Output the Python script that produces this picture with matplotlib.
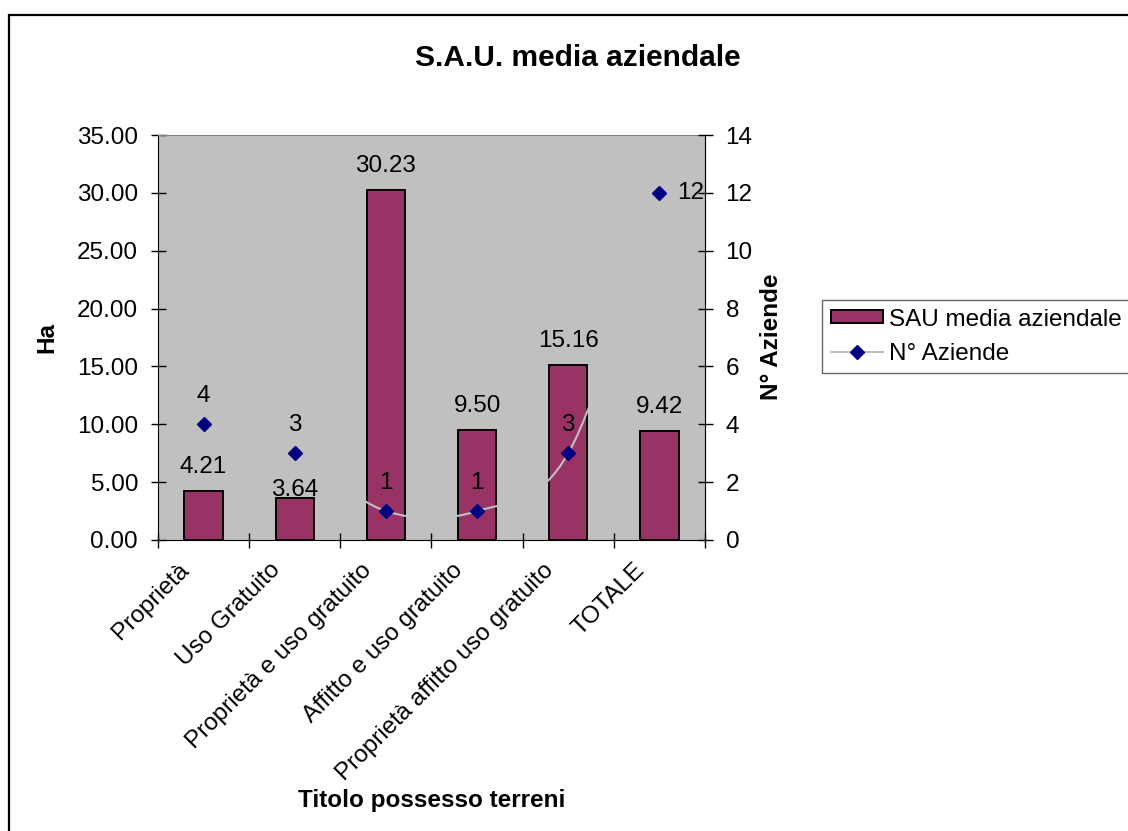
import matplotlib
matplotlib.use("Agg")
import matplotlib.pyplot as plt
from matplotlib.path import Path
from matplotlib.patches import PathPatch, Rectangle, Patch
from matplotlib.lines import Line2D
from matplotlib.ticker import FormatStrFormatter
from matplotlib.transforms import ScaledTranslation
import numpy as np

# ---- data ----
categories = ["Proprietà", "Uso Gratuito", "Proprietà e uso gratuito",
              "Affitto e uso gratuito", "Proprietà affitto uso gratuito", "TOTALE"]
sau_media = [4.21, 3.64, 30.23, 9.50, 15.16, 9.42]
n_aziende = [4, 3, 1, 1, 3, 12]

# label placement (pixels between value and text baseline)
bar_label_gap_px = [18, 2, 18, 18, 18, 18]
point_label_side = ["above", "above", "above", "above", "above", "right"]

plt.rcParams["font.family"] = ["Liberation Sans", "DejaVu Sans"]
FS = 17.5
PX = 0.72  # points per pixel at 100 dpi
PLOT_BG = "#C0C0C0"

W, H = 1128, 831
fig = plt.figure(figsize=(W / 100, H / 100), dpi=100)
fig.patch.set_facecolor("white")

# outer chart frame
fig.add_artist(Rectangle((9 / W, -0.05), 1.2, (1 - 15 / H) + 0.05,
                         transform=fig.transFigure, fill=False,
                         edgecolor="black", linewidth=1.6))

ax = fig.add_axes([158 / W, 1 - 540 / H, (705 - 158) / W, (540 - 135) / H])
ax.set_facecolor(PLOT_BG)
x = np.arange(len(categories))

ax.bar(x, sau_media, width=0.42, color="#993366", edgecolor="black",
       linewidth=1.4, zorder=2)
ax.set_xlim(-0.5, len(categories) - 0.5)
ax.set_ylim(0, 35)
ax.set_yticks(np.arange(0, 35.01, 5))
ax.yaxis.set_major_formatter(FormatStrFormatter("%.2f"))
ax.tick_params(axis="y", direction="inout", length=10.8, width=1,
               labelsize=FS, pad=9)

ax.set_xticks(x)
ax.set_xticklabels(categories, rotation=45, ha="right", va="center",
                   rotation_mode="anchor", fontsize=FS)
ax.tick_params(axis="x", which="major", length=0, pad=27 * PX)
ax.set_xticks(np.arange(-0.5, len(categories)), minor=True)
ax.tick_params(axis="x", which="minor", direction="inout", length=10.8, width=1)
shift = ScaledTranslation(-18 / 100, 0, fig.dpi_scale_trans)
for lab in ax.get_xticklabels():
    lab.set_transform(lab.get_transform() + shift)

for side in ("left", "bottom"):
    ax.spines[side].set_color("black")
for side in ("top", "right"):
    ax.spines[side].set_color("#808080")

for i, v in enumerate(sau_media):
    ax.annotate(f"{v:.2f}", (i, v), xytext=(0, bar_label_gap_px[i] * PX),
                textcoords="offset points", ha="center", va="baseline",
                fontsize=FS, zorder=5)

# secondary axis: number of farms
ax2 = ax.twinx()
ax2.set_ylim(0, 14)
ax2.set_yticks(np.arange(0, 14.01, 2))
ax2.tick_params(axis="y", direction="inout", length=10.8, width=1,
                labelsize=FS, pad=9.4)
for side in ("left", "top", "bottom"):
    ax2.spines[side].set_visible(False)
ax2.spines["right"].set_color("black")

# smoothed connecting line (Catmull-Rom as cubic Bezier segments),
# drawn in the plot-area colour so it only shows over the bars
pts = np.column_stack([x, n_aziende]).astype(float)
ext = np.vstack([pts[0], pts, pts[-1]])
verts = [tuple(pts[0])]
codes = [Path.MOVETO]
for k in range(len(pts) - 1):
    p0, p1, p2, p3 = ext[k], ext[k + 1], ext[k + 2], ext[k + 3]
    c1 = p1 + (p2 - p0) / 6.0
    c2 = p2 - (p3 - p1) / 6.0
    verts += [tuple(c1), tuple(c2), tuple(p2)]
    codes += [Path.CURVE4] * 3
ax2.add_patch(PathPatch(Path(verts, codes), fill=False, edgecolor=PLOT_BG,
                        linewidth=1.5, zorder=3))
ax2.plot(x, n_aziende, linestyle="none", marker="D", markersize=7,
         color="#000080", zorder=4)

for i, n in enumerate(n_aziende):
    if point_label_side[i] == "right":
        ax2.annotate(str(n), (i, n), xytext=(18 * PX, 0),
                     textcoords="offset points", ha="left", va="center",
                     fontsize=FS, zorder=5)
    else:
        ax2.annotate(str(n), (i, n), xytext=(0, 22 * PX),
                     textcoords="offset points", ha="center", va="baseline",
                     fontsize=FS, zorder=5)

# titles and axis names
fig.text(578 / W, 1 - 58 / H, "S.A.U. media aziendale", ha="center",
         va="center", fontsize=21.5, fontweight="bold")
fig.text(432 / W, 1 - 800 / H, "Titolo possesso terreni", ha="center",
         va="center", fontsize=FS, fontweight="bold")
fig.text(47 / W, 1 - 337 / H, "Ha", ha="center", va="center", rotation=90,
         fontsize=FS, fontweight="bold")
fig.text(772 / W, 1 - 337 / H, "N° Aziende", ha="center", va="center",
         rotation=90, fontsize=FS, fontweight="bold")

# legend
handles = [
    Patch(facecolor="#993366", edgecolor="black", linewidth=1.4),
    Line2D([], [], color=PLOT_BG, linewidth=1.5, marker="D",
           markersize=7, markerfacecolor="#000080", markeredgecolor="#000080"),
]
leg = fig.legend(handles, ["SAU media aziendale", "N° Aziende"],
                 loc="upper left", bbox_to_anchor=(822 / W, 1 - 300 / H),
                 fontsize=FS, frameon=True, fancybox=False, shadow=False,
                 borderpad=0.35, labelspacing=0.5, handlelength=2.15,
                 handleheight=0.45, handletextpad=0.25, borderaxespad=0)
leg.get_frame().set_edgecolor("#404040")
leg.get_frame().set_linewidth(1.0)

fig.savefig("out.png", dpi=100)
